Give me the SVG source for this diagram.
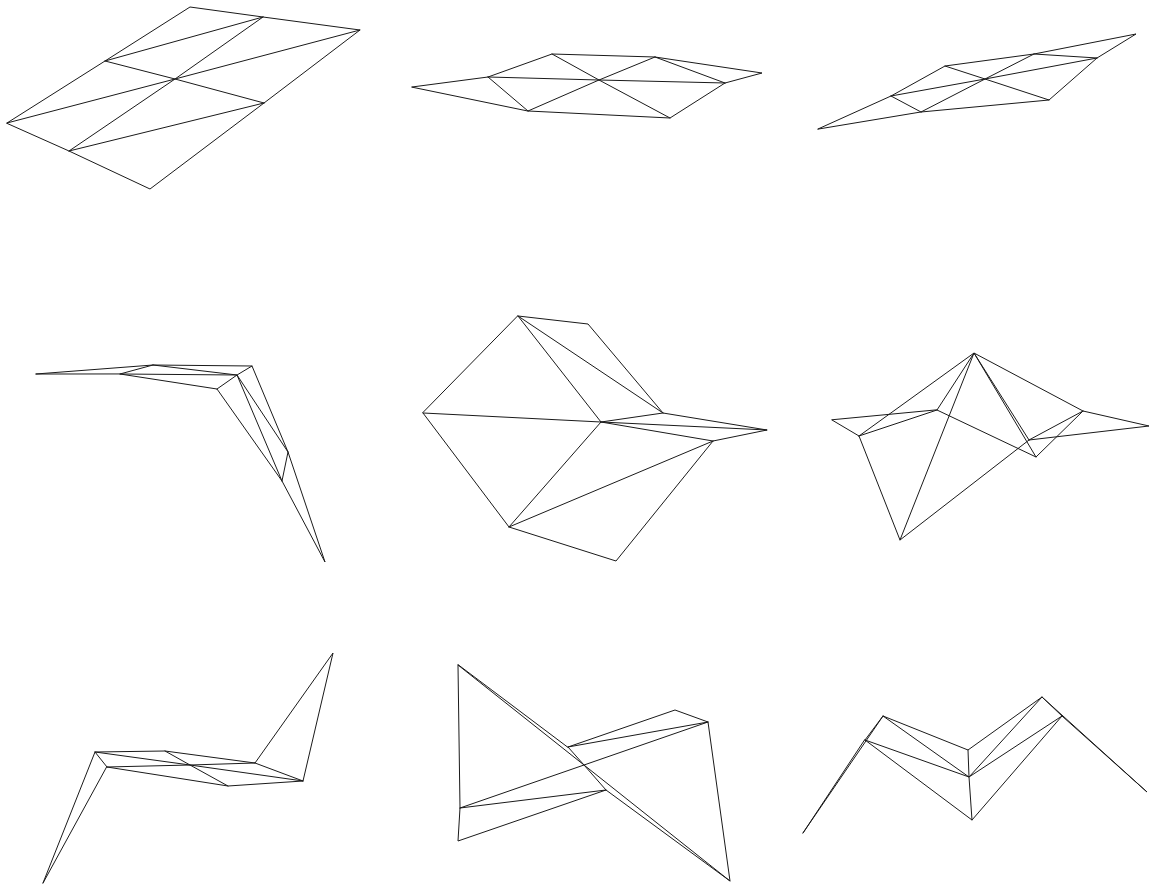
<svg xmlns="http://www.w3.org/2000/svg" width="1152" height="886" viewBox="0 0 1152 886">
<style>
path{fill:none;stroke:#1a1a1a;stroke-width:1;stroke-linejoin:miter;stroke-linecap:round}
</style>
<rect width="1152" height="886" fill="#fff"/>
<g id="mesh-1"><path d="M7 123L105 61L190 7L263 17L360 30L264 103L150 189L69 151ZM105 61L175 79L264 103M263 17L175 79L69 151M7 123L175 79L360 30M105 61L263 17M69 151L264 103"/></g>
<g id="mesh-2"><path d="M412 87L488 77L552 54L655 57L762 73L725 83L670 118L528 111ZM488 77L599 80L725 83M552 54L599 80L670 118M655 57L599 80L528 111M488 77L528 111M655 57L725 83"/></g>
<g id="mesh-3"><path d="M818 129L891 96L945 66L1034 54L1136 34L1097 58L1049 100L921 112ZM891 96L985 79L1097 58M945 66L985 79L1049 100M1034 54L985 79L921 112M891 96L921 112M1034 54L1097 58"/></g>
<g id="mesh-4"><path d="M36 374L153 365L252 366L288 452L325 562L282 481L217 389L120 374ZM153 365L237 375L282 481M252 366L237 375L217 389M288 452L237 375L120 374M153 365L120 374M288 452L282 481"/></g>
<g id="mesh-5"><path d="M518 316L588 324L663 413L767 430L713 441L616 561L509 527L423 413ZM518 316L601 422L509 527M423 413L601 422L767 430M663 413L601 422L713 441M518 316L663 413M509 527L713 441"/></g>
<g id="mesh-6"><path d="M832 420L859 436L900 540L1029 440L1149 426L1083 411L1036 457L937 410ZM859 436L974 353L1083 411M937 410L974 353L1036 457M900 540L974 353L1029 440M859 436L937 410M1029 440L1083 411"/></g>
<g id="mesh-7"><path d="M43 883L95 752L165 751L255 763L333 653L303 781L228 786L107 767ZM95 752L190 765L303 781M165 751L190 765L228 786M107 767L190 765L255 763M95 752L107 767M255 763L303 781"/></g>
<g id="mesh-8"><path d="M458 665L460 808L458 841L606 790L730 881L708 722L675 710L568 747ZM460 808L584 765L708 722M606 790L584 765L568 747M458 665L584 765L730 881M460 808L606 790M568 747L708 722"/></g>
<g id="mesh-9"><path d="M803 833L883 716L968 750L1042 697L1147 792L1062 716L972 820L865 740ZM883 716L969 777L1062 716M968 750L969 777L972 820M1042 697L969 777L865 740M883 716L865 740M1042 697L1062 716"/></g>
</svg>
